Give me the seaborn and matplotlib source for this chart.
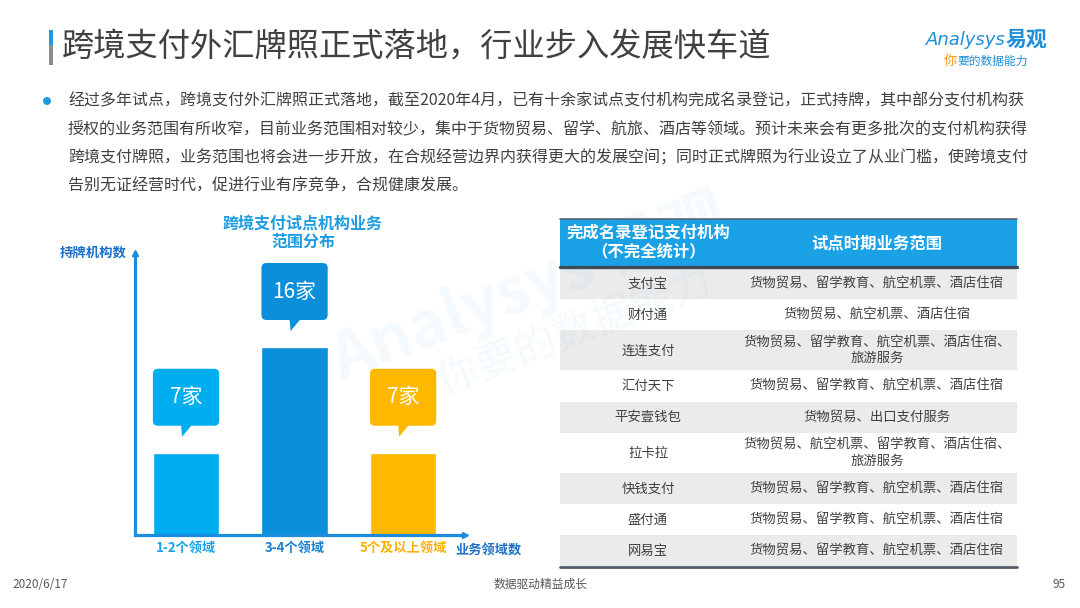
import seaborn as sns
import matplotlib.pyplot as plt
from matplotlib.patches import FancyBboxPatch, Polygon, Rectangle, Circle

# ---- data ----
categories = ["1-2个领域", "3-4个领域", "5个及以上领域"]
counts = [7, 16, 7]
count_labels = ["7家", "16家", "7家"]

institutions = ["支付宝", "财付通", "连连支付", "汇付天下", "平安壹钱包",
                "拉卡拉", "快钱支付", "盛付通", "网易宝"]
scopes = [
    "货物贸易、留学教育、航空机票、酒店住宿",
    "货物贸易、航空机票、酒店住宿",
    "货物贸易、留学教育、航空机票、酒店住宿、\n旅游服务",
    "货物贸易、留学教育、航空机票、酒店住宿",
    "货物贸易、出口支付服务",
    "货物贸易、航空机票、留学教育、酒店住宿、\n旅游服务",
    "货物贸易、留学教育、航空机票、酒店住宿",
    "货物贸易、留学教育、航空机票、酒店住宿",
    "货物贸易、留学教育、航空机票、酒店住宿",
]
table_header = ["完成名录登记支付机构\n（不完全统计）", "试点时期业务范围"]

title = "跨境支付外汇牌照正式落地，行业步入发展快车道"
paragraph = [
    "经过多年试点，跨境支付外汇牌照正式落地，截至2020年4月，已有十余家试点支付机构完成名录登记，正式持牌，其中部分支付机构获",
    "授权的业务范围有所收窄，目前业务范围相对较少，集中于货物贸易、留学、航旅、酒店等领域。预计未来会有更多批次的支付机构获得",
    "跨境支付牌照，业务范围也将会进一步开放，在合规经营边界内获得更大的发展空间；同时正式牌照为行业设立了从业门槛，使跨境支付",
    "告别无证经营时代，促进行业有序竞争，合规健康发展。",
]
chart_title = "跨境支付试点机构业务\n范围分布"
footer = ["2020/6/17", "数据驱动精益成长", "95"]

# ---- style ----
bar_colors = ["#00AEEF", "#0B8FDB", "#FFB800"]
tick_colors = ["#1AA3E8", "#1580D0", "#FFB000"]
axis_color = "#1A8CDB"
dark_blue = "#1F6FC5"
text_color = "#404040"

sns.set_style("white")
plt.rcParams['font.family'] = ['Noto Sans CJK SC', 'DejaVu Sans']

W, H = 1080, 608
fig = plt.figure(figsize=(W / 100, H / 100), dpi=100)

# full-figure canvas in pixel coordinates
canvas = fig.add_axes([0, 0, 1, 1], zorder=0)
canvas.set_xlim(0, W)
canvas.set_ylim(H, 0)
canvas.axis("off")

# title block
canvas.add_patch(Rectangle((49, 30), 4, 15, color="#1E9BE0", lw=0))
canvas.add_patch(Rectangle((49, 45), 4, 20, color="#8C8C8C", lw=0))
canvas.text(62, 47, title, fontsize=23.2, color=text_color, va="center", ha="left")

# logo
canvas.text(926, 40, "Analysys", fontsize=13, color="#1E8FD8", style="italic",
            va="center", ha="left", family=["DejaVu Sans"])
canvas.text(1006, 39, "易观", fontsize=15, color="#1E8FD8", fontweight="bold",
            va="center", ha="left")
canvas.text(944, 61, "你", fontsize=9.5, color="#F39A1E", style="italic", va="center", ha="left")
canvas.text(957, 61, "要的数据能力", fontsize=8.5, color="#1E8FD8", style="italic",
            va="center", ha="left")

# paragraph
canvas.add_patch(Circle((47, 101), 4, color="#1E9BE0", lw=0))
for i, line in enumerate(paragraph):
    canvas.text(68, 101 + i * 28.4, line, fontsize=11.5, color=text_color,
                va="center", ha="left")

# watermark
canvas.text(530, 288, "Analysys 易观", fontsize=46, color="#1E9BE0", alpha=0.05,
            rotation=21, ha="center", va="center", fontweight="bold")
canvas.text(575, 332, "你要的数据能力", fontsize=30, color="#1E9BE0", alpha=0.05,
            rotation=21, ha="center", va="center")

# ---- bar chart ----
ax = fig.add_axes([135 / W, 1 - 535 / H, 330 / W, 282 / H], zorder=1)
ax.patch.set_alpha(0)
sns.barplot(x=categories, y=counts, hue=categories, palette=bar_colors,
            width=0.61, legend=False, saturation=1, ax=ax)
ax.set_xlim(-0.47, 2.57)
ax.set_ylim(0, 24.0)
ax.set_yticks([])
ax.set_xlabel("")
ax.set_ylabel("")
sns.despine(ax=ax)
for side in ["left", "bottom"]:
    ax.spines[side].set_color(axis_color)
    ax.spines[side].set_linewidth(2.3)
ax.plot(0, 1, marker="^", ms=5, color=axis_color, transform=ax.transAxes, clip_on=False)
ax.plot(1, 0, marker=">", ms=5, color=axis_color, transform=ax.transAxes, clip_on=False)
ax.tick_params(axis="x", length=0, pad=4)
for lbl, c in zip(ax.get_xticklabels(), tick_colors):
    lbl.set_color(c)
    lbl.set_fontsize(9.5)
    lbl.set_fontweight("bold")

ax.text(-0.024, 1.0, "持牌机构数", transform=ax.transAxes, ha="right", va="center",
        fontsize=9.6, fontweight="bold", color=dark_blue)
ax.text(0.97, -0.057, "业务领域数", transform=ax.transAxes, ha="left", va="center",
        fontsize=9.5, fontweight="bold", color=dark_blue)
ax.text(0.509, 1.072, chart_title, transform=ax.transAxes, ha="center", va="center",
        fontsize=11.5, fontweight="bold", color="#1E9CE0", linespacing=1.15)

# callouts above bars, positioned in canvas pixels from the bars' data coordinates
for bar, lab, c in zip(ax.patches, count_labels, bar_colors):
    x_left, top = bar.get_x(), bar.get_height()
    x_right = x_left + bar.get_width()
    (dx0, dy0) = ax.transData.transform((x_left, top))
    (dx1, _) = ax.transData.transform((x_right, top))
    px0, px1, ptop = dx0, dx1, H - dy0
    cx = (px0 + px1) / 2
    box_bottom = ptop - 27
    box_top = box_bottom - 57
    canvas.add_patch(FancyBboxPatch((px0, box_top), px1 - px0, box_bottom - box_top,
                                    boxstyle="round,pad=0,rounding_size=5",
                                    facecolor=c, edgecolor="none", zorder=3))
    canvas.add_patch(Polygon([(cx - 5, box_bottom - 1), (cx + 6, box_bottom - 1),
                              (cx - 4, box_bottom + 11)], closed=True,
                             facecolor=c, edgecolor="none", zorder=3))
    canvas.text(cx, (box_top + box_bottom) / 2, lab, fontsize=15, color="white",
                ha="center", va="center", zorder=4)

# ---- table ----
tx0, tx1, tsplit = 560, 1017, 736
head_top, head_bot = 219, 266
canvas.add_patch(Rectangle((tx0, head_top), tx1 - tx0, head_bot - head_top,
                           facecolor="#1BA1E6", edgecolor="none"))
canvas.plot([tx0, tx1], [head_top, head_top], color="#5A6670", lw=1.2)
canvas.plot([tx0, tx1], [head_bot + 1, head_bot + 1], color="#3E4A55", lw=2.4)
canvas.text((tx0 + tsplit) / 2, 242, table_header[0], fontsize=11.8, fontweight="bold",
            color="white", ha="center", va="center", linespacing=1.05)
canvas.text((tsplit + tx1) / 2, 243, table_header[1], fontsize=11.8, fontweight="bold",
            color="white", ha="center", va="center")

y = head_bot + 2
for i, (name, scope) in enumerate(zip(institutions, scopes)):
    n_lines = scope.count("\n") + 1
    h = 31.2 if n_lines == 1 else 40
    if i % 2 == 0:
        canvas.add_patch(Rectangle((tx0, y), tx1 - tx0, h, facecolor="#EBEBEB",
                                   edgecolor="none"))
    canvas.text(648, y + h / 2, name, fontsize=9.6, color=text_color,
                ha="center", va="center")
    canvas.text(877, y + h / 2, scope, fontsize=9.6, color=text_color,
                ha="center", va="center", linespacing=1.15, multialignment="center")
    y += h
canvas.plot([tx0, tx1], [y + 1, y + 1], color="#505A64", lw=2)

# footer
canvas.text(12, 584, footer[0], fontsize=8.5, color="#595959", ha="left", va="center")
canvas.text(541, 584, footer[1], fontsize=8.5, color="#595959", ha="center", va="center")
canvas.text(1066, 584, footer[2], fontsize=8.5, color="#595959", ha="right", va="center")

fig.savefig("out.png", dpi=100)
